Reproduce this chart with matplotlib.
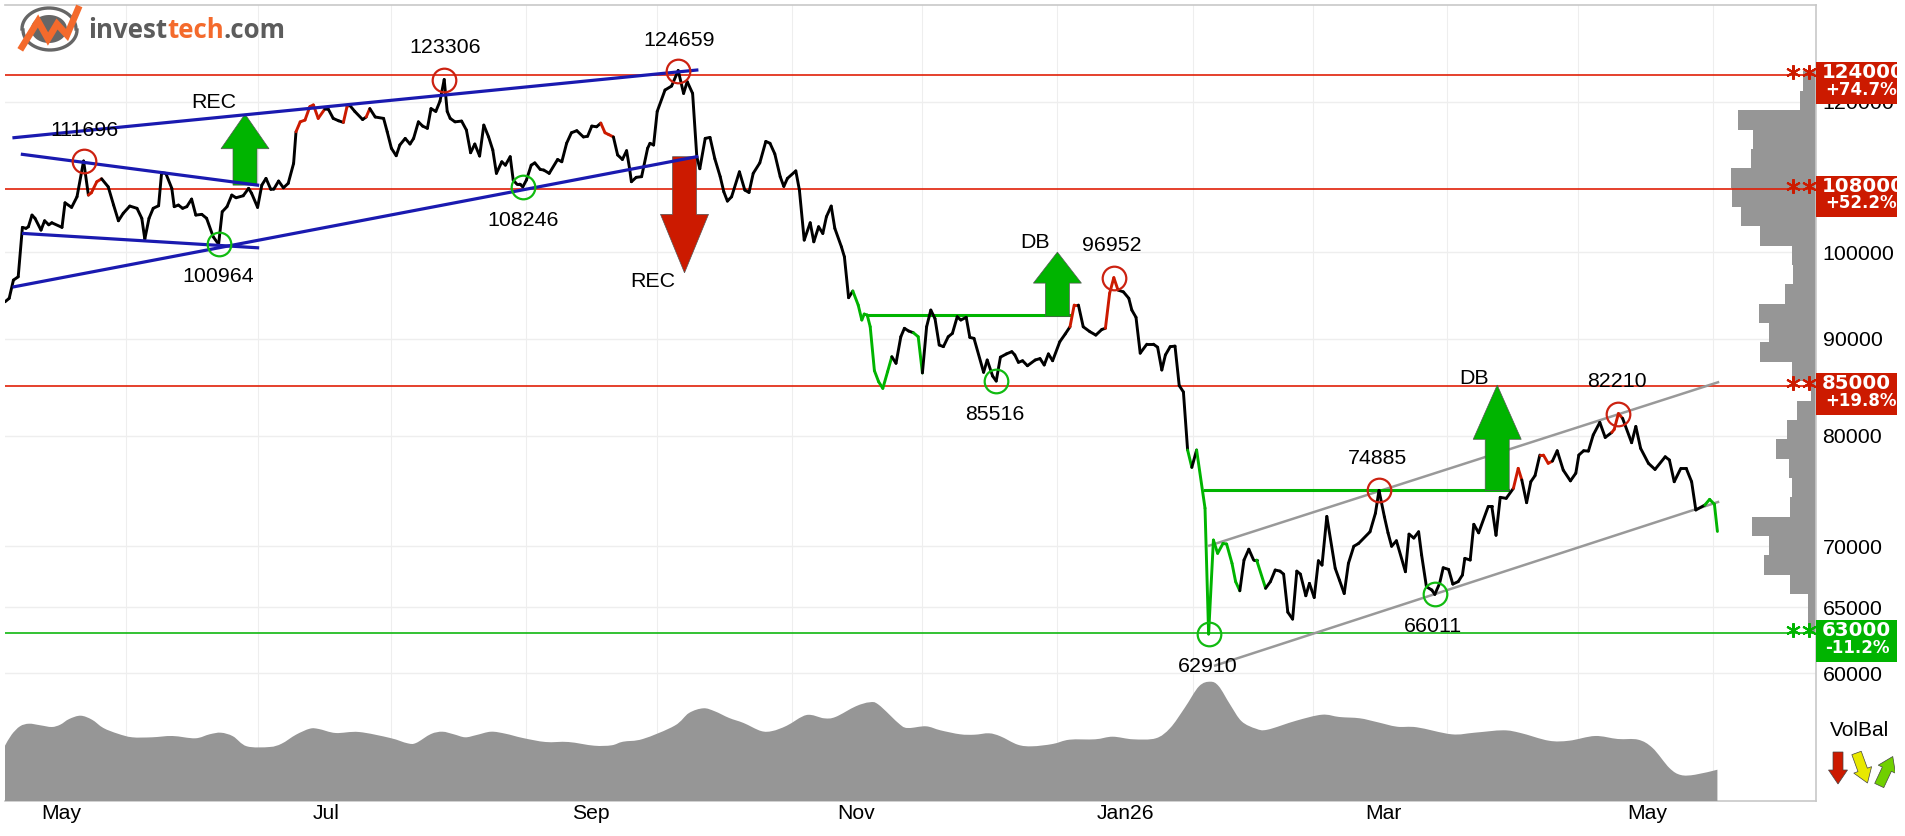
import matplotlib
matplotlib.use('Agg')
import numpy as np
import matplotlib.pyplot as plt
from matplotlib.collections import LineCollection
from matplotlib.patches import PathPatch, Polygon, Rectangle
from matplotlib.path import Path
from matplotlib.ticker import NullLocator
from matplotlib.transforms import Bbox

plt.rcParams['font.family'] = ['Liberation Sans', 'DejaVu Sans']

# closing prices, x is the session number
sessions = [0.0, 0.7, 1.4, 2.2, 2.9, 3.5, 3.9, 4.5, 5.0, 6.0, 6.6, 7.3, 7.8, 9.5, 10.0, 11.1, 12.0, 13.1, 13.9, 14.4,
            15.3, 16.1, 17.2, 18.1, 18.9, 19.7, 20.8, 22.0, 22.8, 23.3, 24.0, 24.7, 25.6, 26.1, 26.8, 27.8, 28.2, 28.9, 29.6, 30.3,
            31.1, 31.8, 32.8, 33.6, 34.7, 35.6, 36.2, 37.0, 37.8, 38.5, 39.7, 40.6, 41.1, 42.1, 42.8, 43.5, 44.3, 44.8, 45.6, 46.4,
            47.2, 48.1, 48.5, 49.2, 50.0, 50.8, 51.4, 52.2, 53.3, 53.9, 54.7, 55.6, 56.4, 57.0, 57.4, 58.3, 59.6, 60.2, 60.8, 61.7,
            63.1, 63.7, 64.4, 65.2, 65.8, 66.7, 67.5, 68.1, 68.9, 69.6, 70.4, 71.0, 71.8, 72.5, 73.2, 73.7, 74.2, 75.0, 76.1, 76.9,
            77.6, 78.3, 79.1, 79.8, 80.6, 81.3, 81.9, 82.8, 83.4, 84.2, 84.7, 85.3, 85.8, 86.3, 86.9, 87.7, 88.3, 89.2, 89.8, 90.7,
            92.1, 92.8, 93.6, 94.4, 95.3, 96.4, 97.1, 97.8, 98.6, 99.3, 100.0, 100.6, 101.4, 102.1, 102.9, 103.6, 104.1, 104.4, 105.2, 106.1,
            107.1, 107.5, 108.1, 108.7, 110.0, 111.1, 112.2, 113.1, 113.7, 114.6, 115.3, 115.8, 116.7, 117.5, 118.3, 119.2, 119.8, 120.4, 121.1, 122.4,
            123.3, 124.0, 124.7, 125.8, 126.8, 127.5, 128.3, 129.2, 129.8, 130.4, 131.8, 132.4, 133.2, 134.2, 134.8, 135.6, 136.3, 136.9, 137.7, 138.3,
            139.4, 139.9, 140.6, 141.3, 142.2, 142.8, 143.2, 143.7, 144.2, 144.9, 145.6, 146.3, 147.1, 147.8, 148.5, 149.3, 149.9, 150.6, 151.4, 152.2,
            152.9, 153.6, 154.3, 155.0, 155.7, 156.4, 157.2, 157.9, 158.7, 159.3, 160.2, 160.8, 161.5, 163.1, 163.7, 164.6, 165.2, 165.9, 166.9, 167.8,
            168.3, 168.9, 169.6, 170.4, 171.7, 172.5, 173.2, 173.9, 174.6, 175.8, 176.7, 177.5, 178.2, 178.9, 179.7, 180.8, 181.8, 182.8, 183.4, 184.1,
            184.8, 185.5, 186.4, 187.3, 187.8, 188.5, 189.2, 190.3, 191.4, 192.1, 192.8, 193.4, 194.2, 195.0, 195.7, 196.4, 197.1, 197.8, 198.6, 200.0,
            200.6, 201.4, 202.1, 203.0, 203.6, 204.5, 205.1, 205.8, 206.5, 207.3, 208.1, 208.6, 210.1, 210.9, 211.7, 212.5, 213.1, 213.8, 214.6, 215.3,
            215.9, 216.8, 217.4, 218.2, 218.9, 219.5, 220.3, 221.7, 222.4, 223.2, 223.9, 224.8, 225.6, 227.5, 228.4, 229.0, 229.9, 230.5, 231.1, 231.9,
            233.4, 234.0, 234.8, 235.6, 236.1, 236.9, 237.8, 238.3, 239.1, 239.7, 240.6, 241.3, 242.2, 242.9, 243.3, 244.2, 244.8, 245.6, 247.2, 247.8,
            248.5, 249.2, 250.2, 251.4, 252.2, 252.8, 253.6, 254.3, 255.0, 255.8, 256.4, 257.2, 257.9, 258.7, 259.7, 260.9, 261.8, 262.3, 263.1, 263.9,
            264.7, 265.8, 266.7, 267.8, 268.2, 268.9, 269.6, 271.1, 271.8, 272.6, 273.9, 275.0, 276.7, 277.4, 278.2, 279.3, 280.2, 281.1, 281.8, 283.3,
            284.1, 284.9, 285.4]
closes = [94150, 94550, 96660, 97050, 103050, 102930, 103130, 104600, 104190, 102710, 103880, 103370, 103630, 103050, 106170, 105580, 106950, 111696, 107170, 107470,
          108920, 109310, 108250, 105880, 103880, 104820, 105750, 105460, 104190, 101590, 104190, 105460, 105790, 110110, 110030, 108050, 105670, 105880, 105460, 105670,
          106650, 104600, 104690, 104190, 101880, 100964, 105020, 105670, 107170, 106820, 107080, 108050, 107400, 105580, 108470, 109360, 107920, 107950, 109010, 108120,
          108700, 111370, 115730, 117130, 117380, 119310, 119560, 117620, 118970, 118920, 117620, 117280, 117050, 119310, 119560, 118620, 117460, 117820, 119030, 117820,
          117620, 115730, 113430, 112410, 113880, 114800, 114020, 114800, 117130, 116530, 116210, 119030, 118620, 120110, 123306, 118620, 117620, 117130, 117240, 115970,
          112820, 114020, 112370, 116670, 115000, 113190, 110030, 111590, 111130, 112280, 109140, 108610, 108610, 108246, 109140, 111130, 111440, 110560, 110470, 110030,
          111900, 111590, 114120, 115590, 115880, 115000, 115100, 116530, 116430, 116950, 115590, 115340, 115000, 112520, 111900, 113100, 110650, 108920, 109500, 109590,
          113430, 114120, 113880, 118620, 121740, 122330, 124659, 121240, 122990, 121240, 112280, 110650, 114800, 114940, 112010, 109590, 107600, 106390, 106950, 110240,
          107820, 107510, 110030, 111440, 114380, 114120, 112660, 109590, 108300, 109360, 110360, 107820, 101470, 103630, 101260, 103130, 102290, 104390, 105750, 102930,
          100650, 99430, 94620, 95390, 93780, 92090, 92760, 92650, 91340, 86600, 85450, 84760, 86500, 88080, 87380, 90240, 91170, 90870, 90680, 90240,
          86360, 91340, 93210, 92240, 89340, 89160, 90240, 90610, 92450, 92090, 92390, 90170, 90060, 86430, 87730, 86040, 85516, 88030, 88380, 88620,
          88270, 87480, 87650, 87120, 87730, 87880, 87200, 88380, 87650, 89700, 90540, 91340, 93780, 93780, 91340, 90800, 90420, 91040, 91170, 95120,
          96952, 95500, 95290, 94550, 93210, 92390, 88460, 89430, 89430, 89100, 86670, 88270, 89160, 89220, 85050, 84390, 78650, 77010, 78650, 73290,
          62910, 70510, 69380, 70220, 70170, 68540, 67040, 66300, 68820, 69730, 68820, 68820, 66500, 67040, 67990, 67900, 67650, 64600, 64060, 67900,
          67650, 65900, 66900, 65760, 68760, 68400, 72560, 68130, 67170, 66080, 68540, 69980, 70220, 71220, 72840, 74885, 72520, 71130, 69980, 70450,
          67850, 71020, 70680, 71220, 69240, 66630, 66360, 66011, 66900, 68180, 68040, 66840, 67040, 67580, 68960, 68820, 71870, 71130, 73440, 73440,
          70920, 74260, 74170, 75080, 76920, 75840, 73780, 75680, 76240, 78170, 78170, 77390, 77600, 78580, 76760, 75760, 76470, 78170, 78580, 78550,
          80100, 81330, 79860, 80350, 80640, 82210, 81730, 79350, 80930, 78810, 77390, 76820, 78010, 77700, 75680, 76920, 76920, 75680, 73130, 73570,
          74080, 73640, 71250]

# parts of the price line coloured by short term signal
red_spans = [(13.9, 16.1), (48.5, 53.3), (56.7, 57.4), (60.2, 60.8), (99.3, 101.4), (177.5, 178.9),
             (183.4, 185.5), (251.4, 252.8), (255.8, 257.9), (267.8, 269.6)]
green_spans = [(141.3, 147.8), (151.4, 152.9), (197.1, 197.8), (198.6, 205.8), (208.6, 210.1), (283.3, 285.4)]

# volume balance panel
vol_sessions = [0.0, 1.1, 2.5, 4.0, 5.9, 7.8, 9.2, 10.7, 12.6, 14.5, 16.4, 18.8, 21.2, 24.5, 27.9, 31.7, 34.1, 36.0, 38.0, 40.3,
                44.1, 46.1, 48.5, 50.8, 52.3, 55.1, 59.0, 64.2, 67.1, 68.5, 71.0, 72.9, 74.8, 76.7, 78.6, 81.0, 83.4, 86.3, 90.1, 93.9,
                98.2, 101.1, 103.0, 106.3, 111.6, 114.0, 116.4, 118.3, 120.7, 123.1, 126.0, 127.9, 130.3, 133.6, 136.5, 138.4, 141.8, 144.1, 145.6, 149.2,
                150.6, 153.5, 155.9, 159.2, 161.6, 164.0, 165.9, 168.8, 171.2, 174.6, 177.4, 181.7, 184.6, 188.0, 191.8, 194.2, 196.6, 199.0, 200.9, 202.3,
                204.2, 206.1, 208.5, 210.4, 215.2, 219.5, 222.4, 225.8, 228.6, 232.0, 235.3, 241.1, 244.9, 249.7, 252.6, 257.3, 260.7, 265.0, 268.8, 272.2,
                274.6, 277.4, 279.3, 281.7, 285.4]
vol_balance = [55.3, 66.3, 74.7, 77.3, 75.7, 74, 76.3, 82, 85.3, 81.3, 73, 67.3, 63.7, 63.7, 65, 62.7, 66.7, 68.3, 64.7, 54.7,
               54, 57.3, 66.3, 72.3, 72, 68, 69, 63, 57.7, 58, 67, 69.3, 66.7, 63.7, 66, 69.3, 67.3, 63, 59, 59,
               55.3, 55.7, 59.3, 62, 75.3, 88, 92.7, 89.7, 83, 78, 70, 70, 75.3, 86, 82.7, 84, 94.7, 98.7, 96.3, 76.3,
               73, 74.7, 70.7, 66.7, 66.3, 67.7, 64.7, 56.3, 54.7, 57, 61.3, 61.7, 64.3, 61.7, 62.7, 73, 93, 114.7, 119.3, 114.7,
               96.3, 79.7, 72.3, 71.3, 80.3, 86.3, 84, 82.7, 79, 74.3, 73.7, 66.7, 68.3, 70.7, 68, 60.3, 60.3, 65, 62, 61.3,
               53, 33, 26, 26.3, 31.3]

# turnover per price level, lowest bin first
hist_low = 63000
hist_step = 1.02377
hist_volume = [7.7, 8, 26, 51.7, 47.3, 64, 25.7, 23.7, 27.3, 40.3, 29, 19.3, 4.7, 24, 56.3, 47.3, 57, 30.7, 23, 24,
               56.3, 75.3, 84.3, 84.7, 64.7, 62.7, 78, 15.7, 13]

# support and resistance levels with distance from last close
levels = [124000, 108000, 85000, 63000]
level_changes = ['+74.7%', '+52.2%', '+19.8%', '-11.2%']
level_colors = ['#cc1a00', '#cc1a00', '#cc1a00', '#00b400']

# tops and bottoms
tops_x = [13.1, 73.2, 112.2, 184.8, 229.0, 268.9]
tops_y = [111696, 123306, 124659, 96952, 74885, 82210]
bottoms_x = [35.6, 86.3, 165.2, 200.6, 238.3]
bottoms_y = [100964, 108246, 85516, 62910, 66011]

# trend lines as (x0, y0, x1, y1)
blue_lines = [(1.5, 114900, 115.3, 124730), (2.9, 112600, 42.1, 108470),
              (3.1, 102290, 42.1, 100530), (1.5, 95880, 115.3, 112280)]
gray_lines = [(200.7, 70030, 285.5, 85390), (201.7, 60550, 285.5, 73840)]
neckline_lines = [(143.6, 92650, 177.5, 92650), (200.0, 74885, 250.5, 74885)]

# signal arrows as (x, base, shoulder, tip, colour)
arrows = [(40.0, 108470, 113370, 118240, '#00b400'), (113.25, 112280, 104690, 97520, '#cc1a00'),
          (175.4, 92500, 96310, 100000, '#00b400'), (248.7, 74885, 79680, 85100, '#00b400')]

# chart labels as (x, y, text)
labels = [(13.2, 115970, '111696'), (35.6, 97130, '100964'), (73.3, 128150, '123306'), (112.3, 129350, '124659'),
          (86.3, 103970, '108246'), (34.8, 119870, 'REC'), (108.0, 96460, 'REC'), (171.7, 101140, 'DB'),
          (184.5, 100770, '96952'), (165.0, 82160, '85516'), (228.7, 77800, '74885'), (244.8, 85780, 'DB'),
          (268.7, 85450, '82210'), (238.0, 63470, '66011'), (200.5, 60510, '62910')]

price_ticks = [60000, 65000, 70000, 80000, 90000, 100000, 120000]
month_starts = [20.2, 42.2, 64.4, 86.8, 108.7, 131.2, 152.8, 175.3, 198.0, 218.0, 240.3, 262.2, 284.7]
month_x = [9.3, 53.5, 97.7, 141.8, 186.8, 229.7, 273.7]
month_names = ['May', 'Jul', 'Sep', 'Nov', 'Jan26', 'Mar', 'May']

red = '#cc1a00'
green = '#00b400'
gray = '#969696'
x_end = 301.83


def line_color(x):
    for a, b in red_spans:
        if a <= x <= b:
            return red
    for a, b in green_spans:
        if a <= x <= b:
            return green
    return 'black'


def smooth_area(xs, ys):
    """Closed path down to zero with a rounded curve through the points"""
    n = len(xs)
    verts = [(xs[0], 0), (xs[0], ys[0])]
    codes = [Path.MOVETO, Path.LINETO]
    for i in range(n - 1):
        x0, y0 = xs[max(i - 1, 0)], ys[max(i - 1, 0)]
        x1, y1 = xs[i], ys[i]
        x2, y2 = xs[i + 1], ys[i + 1]
        x3, y3 = xs[min(i + 2, n - 1)], ys[min(i + 2, n - 1)]
        verts += [(x1 + (x2 - x0) / 6, y1 + (y2 - y0) / 6), (x2 - (x3 - x1) / 6, y2 - (y3 - y1) / 6), (x2, y2)]
        codes += [Path.CURVE4] * 3
    verts += [(xs[-1], 0), (xs[0], 0)]
    codes += [Path.LINETO, Path.CLOSEPOLY]
    return Path(verts, codes)


fig = plt.figure(figsize=(19.05, 8.36), dpi=100)
ax = fig.add_axes([5 / 1905, 35 / 836, 1811 / 1905, 796 / 836])
ax.set_yscale('log')
ax.set_xlim(0, x_end)
ax.set_ylim(51370, 134975)
ax.set_axisbelow(True)

ax.yaxis.tick_right()
ax.set_yticks(price_ticks)
ax.set_yticklabels([str(p) for p in price_ticks], fontsize=15.4)
ax.yaxis.set_minor_locator(NullLocator())
ax.set_xticks(month_x)
ax.set_xticklabels(month_names, fontsize=15.2)
ax.set_xticks(month_starts, minor=True)
ax.tick_params(axis='both', which='both', length=0)
ax.tick_params(axis='y', pad=4.7)
ax.tick_params(axis='x', pad=2.5)
ax.grid(True, axis='y', which='major', color='#eeeeee', lw=1)
ax.grid(True, axis='x', which='minor', color='#eeeeee', lw=0.8)
ax.spines['left'].set_visible(False)
for side in ['top', 'right', 'bottom']:
    ax.spines[side].set_color('#c8c8c8')
    ax.spines[side].set_linewidth(1.2)

# turnover histogram hangs from the right edge
edges = hist_low * hist_step ** np.arange(len(hist_volume) + 1)
ax.barh(edges[:-1], -np.array(hist_volume) / 6, left=x_end, height=np.diff(edges),
        align='edge', color=gray, zorder=1.5)

for level, color in zip(levels, level_colors):
    line_col = '#e02008' if color != green else '#10b810'
    ax.plot([0, x_end], [level, level], color=line_col, lw=1.2, zorder=2)
    ax.plot([298.0, 300.67], [level * 1.0033] * 2, ls='none', marker=(6, 2, 0), ms=10.5,
            mec=color, mew=1.5, zorder=3)

for x0, y0, x1, y1 in gray_lines:
    ax.plot([x0, x1], [y0, y1], color='#999999', lw=1.8, zorder=3)

for x0, y0, x1, y1 in neckline_lines:
    ax.plot([x0, x1], [y0, y1], color=green, lw=2.2, zorder=3)

for x, base, shoulder, tip, color in arrows:
    shape = [(x - 2, base), (x - 2, shoulder), (x - 4, shoulder), (x, tip),
             (x + 4, shoulder), (x + 2, shoulder), (x + 2, base)]
    ax.add_patch(Polygon(shape, closed=True, facecolor=color, edgecolor='#555555', lw=0.5, zorder=4))

# price line, one colour per segment
points = np.column_stack([sessions, closes])
segments = np.stack([points[:-1], points[1:]], axis=1)
seg_colors = [line_color((sessions[i] + sessions[i + 1]) / 2) for i in range(len(sessions) - 1)]
ax.add_collection(LineCollection(segments, colors=seg_colors, linewidths=2.1, capstyle='round',
                                 joinstyle='round', zorder=5))

for x0, y0, x1, y1 in blue_lines:
    ax.plot([x0, x1], [y0, y1], color='#1a1ab0', lw=2.3, zorder=6)

ax.plot(tops_x, tops_y, ls='none', marker='o', ms=17, mfc='none', mec='#cc2211', mew=1.6, zorder=7)
ax.plot(bottoms_x, bottoms_y, ls='none', marker='o', ms=17, mfc='none', mec='#11bb11', mew=1.6, zorder=7)

for x, y, text in labels:
    ax.text(x, y, text, fontsize=15.4, ha='center', va='center', color='black', zorder=8)

# price tags to the right of the frame
tag_trans = ax.get_yaxis_transform()
tag_clip = Bbox([[0, 0], [1897, 836]])
for level, change, color in zip(levels, level_changes, level_colors):
    low = level * 0.9658
    high = level * 1.0159
    ax.add_patch(Rectangle((1, low), 81 / 1811, high - low, transform=tag_trans, facecolor=color,
                           edgecolor='none', clip_on=False, zorder=9))
    t = ax.text(1 + 5.7 / 1811, level * 1.003, str(level), transform=tag_trans, color='white',
                family='DejaVu Sans', weight='bold', fontsize=14.2, va='center', ha='left', zorder=10)
    t.set_clip_on(True)
    t.set_clip_box(tag_clip)
    ax.text(1 + 9 / 1811, level * 0.9823, change, transform=tag_trans, color='white',
            family='DejaVu Sans', weight='bold', fontsize=12, va='center', ha='left', zorder=10)

# volume balance sits in the lower part of the same frame
ax_vol = fig.add_axes([5 / 1905, 35 / 836, 1811 / 1905, 128 / 836])
ax_vol.set_xlim(0, x_end)
ax_vol.set_ylim(0, 128)
ax_vol.patch.set_visible(False)
ax_vol.axis('off')
ax_vol.add_patch(PathPatch(smooth_area(vol_sessions, vol_balance), facecolor=gray, edgecolor='none'))

# logo and VolBal indicator in figure pixels
ax_deco = fig.add_axes([0, 0, 1, 1])
ax_deco.set_xlim(0, 1905)
ax_deco.set_ylim(836, 0)
ax_deco.axis('off')
ax_deco.patch.set_visible(False)

arc_t = np.linspace(0, np.pi, 30)
ax_deco.plot(49 + 27 * np.cos(arc_t), 29 - 21 * np.sin(arc_t), color='#666666', lw=2.4)
ax_deco.plot(50 + 27 * np.cos(arc_t), 30 + 20 * np.sin(arc_t), color='#666666', lw=2.4)
disc_t = np.linspace(0, 2 * np.pi, 60)
ax_deco.fill(49 + 18 * np.cos(disc_t), 29 + 14 * np.sin(disc_t), color='#666666', lw=0)
ax_deco.plot([22, 38, 48, 57, 67, 78], [47, 21, 39, 24, 35, 9], color='#f46a2c', lw=4.8,
             solid_joinstyle='miter')

logo = ax_deco.text(88, 30, 'invest', fontsize=18.6, weight='bold', family='Open Sans', color='#5c5c5c',
                    va='center', ha='left')
logo2 = ax_deco.annotate('tech', xy=(1, 0), xycoords=logo, va='bottom', ha='left', fontsize=18.6,
                         weight='bold', family='Open Sans', color='#f46a2c')
ax_deco.annotate('.com', xy=(1, 0), xycoords=logo2, va='bottom', ha='left', fontsize=18.6,
                 weight='bold', family='Open Sans', color='#5c5c5c')

ax_deco.text(1860, 730, 'VolBal', fontsize=15, ha='center', va='center', color='black')

volbal_x = [1838, 1862, 1886]
volbal_y = [768, 768, 771]
volbal_turn = [0, 20, 155]
volbal_colors = ['#cc1a00', '#e8e800', '#70d000']
shape_x = np.array([-5, 5, 5, 9.5, 0, -9.5, -5])
shape_y = np.array([-16, -16, 2, 2, 16, 2, 2])
for x, y, turn, color in zip(volbal_x, volbal_y, volbal_turn, volbal_colors):
    a = np.radians(turn)
    xs = x + shape_x * np.cos(a) + shape_y * np.sin(a)
    ys = y - shape_x * np.sin(a) + shape_y * np.cos(a)
    p = Polygon(np.column_stack([xs, ys]), closed=True, facecolor=color, edgecolor='#444444', lw=0.5)
    ax_deco.add_patch(p)
    p.set_clip_box(Bbox([[0, 0], [1895, 836]]))

fig.savefig('out.png', dpi=100)
